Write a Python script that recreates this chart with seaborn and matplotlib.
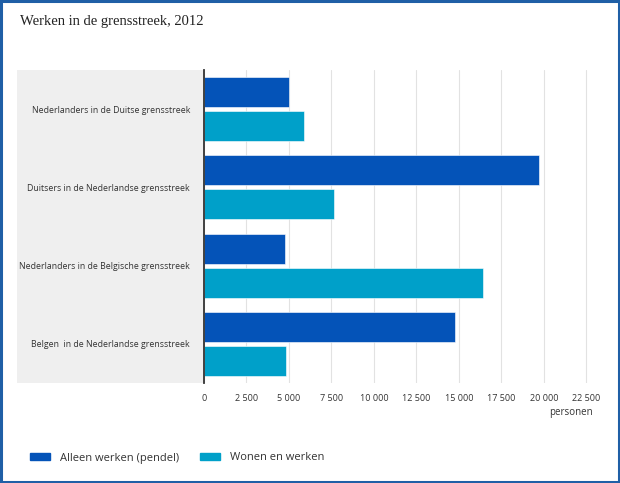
import matplotlib
matplotlib.use('Agg')
import matplotlib.pyplot as plt
from matplotlib.patches import Rectangle
import pandas as pd
import seaborn as sns

categories = ['Nederlanders in de Duitse grensstreek',
              'Duitsers in de Nederlandse grensstreek',
              'Nederlanders in de Belgische grensstreek',
              'Belgen  in de Nederlandse grensstreek']
series = ['Alleen werken (pendel)', 'Wonen en werken']
pendel = [5000, 19700, 4750, 14750]
wonen = [5900, 7650, 16400, 4850]
xticks = [0, 2500, 5000, 7500, 10000, 12500, 15000, 17500, 20000, 22500]
colors = ['#0453b8', '#00a0c9']

df = pd.DataFrame({
    'cat': categories * 2,
    'serie': [series[0]] * 4 + [series[1]] * 4,
    'val': pendel + wonen,
})

sns.set_theme(style='white')
plt.rcParams['font.family'] = ['Open Sans', 'DejaVu Sans']

fig = plt.figure(figsize=(6.2, 4.83), dpi=100)
ax = fig.add_axes([204 / 620, 1 - 383 / 483, 396 / 620, 313 / 483])

# grey panel behind the category labels
fig.patches.append(Rectangle((17 / 620, 1 - 383 / 483), 187 / 620, 313 / 483,
                             transform=fig.transFigure, facecolor='#efefef',
                             edgecolor='none', zorder=-1))
# blue frame round the whole picture
fig.patches.append(Rectangle((0.002, 0.002), 0.996, 0.996, transform=fig.transFigure,
                             facecolor='none', edgecolor='#1f5fa6', lw=2.2, zorder=5))

sns.barplot(data=df, y='cat', x='val', hue='serie', order=categories,
            hue_order=series, palette=colors, orient='h', width=0.87, gap=0.12,
            saturation=1, edgecolor='white', linewidth=0.4, ax=ax, legend=False)

ax.set_xlim(0, 23300)
ax.set_ylim(3.5, -0.5)
ax.set_xticks(xticks)
ax.set_xticklabels([f'{v:,}'.replace(',', ' ') for v in xticks], fontsize=6.5, color='#333333')
ax.tick_params(axis='x', length=0, pad=8)
ax.tick_params(axis='y', which='major', length=0, pad=10, labelsize=6.3, labelcolor='#333333')
ax.set_yticks([0.5, 1.5, 2.5, 3.5], minor=True)
ax.tick_params(axis='y', which='minor', length=8, color='#bbbbbb', width=0.8)
ax.grid(axis='x', color='#e2e2e2', lw=0.8)
ax.set_axisbelow(True)
for s in ['top', 'right', 'bottom']:
    ax.spines[s].set_visible(False)
ax.spines['left'].set_color('#333333')
ax.spines['left'].set_linewidth(1.3)
ax.set_xlabel('')
ax.set_ylabel('')
ax.patch.set_alpha(0)

fig.text(571 / 620, 1 - 413 / 483, 'personen', ha='center', va='center',
         fontsize=7, color='#333333')
fig.text(20 / 620, 1 - 22 / 483, 'Werken in de grensstreek, 2012', ha='left', va='center',
         fontsize=10.5, color='#222222', family='Liberation Serif')

handles = [Rectangle((0, 0), 1, 1, color=c) for c in colors]
fig.legend(handles, series, loc='center left', bbox_to_anchor=(30 / 620, 1 - 458 / 483),
           ncol=2, frameon=False, fontsize=8, handlelength=1.8, handleheight=0.6,
           columnspacing=1.9, handletextpad=0.9, labelcolor='#333333',
           borderpad=0, borderaxespad=0)

fig.savefig('out.png', dpi=100)
